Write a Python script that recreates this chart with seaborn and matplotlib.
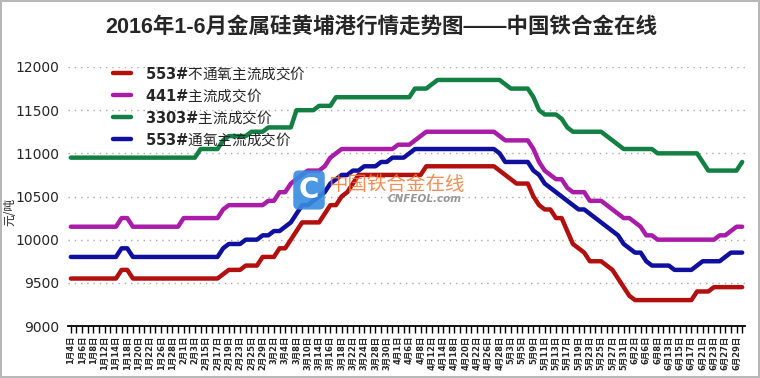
import pandas as pd
import matplotlib
matplotlib.use("Agg")
import matplotlib.pyplot as plt
import seaborn as sns

# trading days Jan-Jun 2016
jan_days = [4, 5, 6, 7, 8, 11, 12, 13, 14, 15, 18, 19, 20, 21, 22, 25, 26, 27, 28, 29]
feb_days = [1, 2, 3, 4, 15, 16, 17, 18, 19, 22, 23, 24, 25, 26, 29]
mar_days = [1, 2, 3, 4, 7, 8, 9, 10, 11, 14, 15, 16, 17, 18, 21, 22, 23, 24, 25, 28, 29, 30, 31]
apr_days = [1, 5, 6, 7, 8, 11, 12, 13, 14, 15, 18, 19, 20, 21, 22, 25, 26, 27, 28, 29]
may_days = [3, 4, 5, 6, 9, 10, 11, 12, 13, 16, 17, 18, 19, 20, 23, 24, 25, 26, 27, 30, 31]
jun_days = [1, 2, 3, 6, 7, 8, 12, 13, 14, 15, 16, 17, 20, 21, 22, 23, 24, 27, 28, 29, 30]
month_days = [(1, jan_days), (2, feb_days), (3, mar_days), (4, apr_days), (5, may_days), (6, jun_days)]
dates = [f"{m}月{d}日" for m, days in month_days for d in days]

codes = ["553#", "441#", "3303#", "553#"]
names = ["不通氧主流成交价", "主流成交价", "主流成交价", "通氧主流成交价"]
colors = ["#b20f0f", "#a81ca8", "#138043", "#10109e"]

# 553# 不通氧
red_553 = [
    9550, 9550, 9550, 9550, 9550, 9550, 9550, 9550, 9550, 9650,
    9650, 9550, 9550, 9550, 9550, 9550, 9550, 9550, 9550, 9550,
    9550, 9550, 9550, 9550, 9550, 9550, 9550, 9600, 9650, 9650,
    9650, 9700, 9700, 9700, 9800, 9800, 9800, 9900, 9900, 10000,
    10100, 10200, 10200, 10200, 10200, 10300, 10400, 10400, 10500, 10550,
    10650, 10750, 10750, 10750, 10750, 10750, 10750, 10750, 10750, 10750,
    10750, 10750, 10750, 10850, 10850, 10850, 10850, 10850, 10850, 10850,
    10850, 10850, 10850, 10850, 10850, 10850, 10800, 10750, 10700, 10650,
    10650, 10650, 10500, 10400, 10350, 10350, 10250, 10250, 10100, 9950,
    9900, 9850, 9750, 9750, 9750, 9700, 9650, 9550, 9450, 9350,
    9300, 9300, 9300, 9300, 9300, 9300, 9300, 9300, 9300, 9300,
    9300, 9400, 9400, 9400, 9450, 9450, 9450, 9450, 9450, 9450,
]
# 441#
purple_441 = [
    10150, 10150, 10150, 10150, 10150, 10150, 10150, 10150, 10150, 10250,
    10250, 10150, 10150, 10150, 10150, 10150, 10150, 10150, 10150, 10150,
    10250, 10250, 10250, 10250, 10250, 10250, 10250, 10350, 10400, 10400,
    10400, 10400, 10400, 10400, 10400, 10450, 10450, 10550, 10550, 10650,
    10700, 10750, 10800, 10800, 10800, 10850, 10950, 11000, 11050, 11050,
    11050, 11050, 11050, 11050, 11050, 11050, 11050, 11050, 11100, 11100,
    11100, 11150, 11200, 11250, 11250, 11250, 11250, 11250, 11250, 11250,
    11250, 11250, 11250, 11250, 11250, 11250, 11200, 11150, 11150, 11150,
    11150, 11150, 11050, 10900, 10800, 10750, 10700, 10700, 10600, 10550,
    10550, 10550, 10450, 10450, 10450, 10400, 10350, 10300, 10250, 10250,
    10200, 10150, 10050, 10050, 10000, 10000, 10000, 10000, 10000, 10000,
    10000, 10000, 10000, 10000, 10000, 10050, 10050, 10100, 10150, 10150,
]
# 3303#
green_3303 = [
    10950, 10950, 10950, 10950, 10950, 10950, 10950, 10950, 10950, 10950,
    10950, 10950, 10950, 10950, 10950, 10950, 10950, 10950, 10950, 10950,
    10950, 10950, 10950, 11050, 11050, 11050, 11050, 11150, 11200, 11200,
    11200, 11200, 11250, 11250, 11250, 11300, 11300, 11300, 11300, 11300,
    11500, 11500, 11500, 11500, 11550, 11550, 11550, 11650, 11650, 11650,
    11650, 11650, 11650, 11650, 11650, 11650, 11650, 11650, 11650, 11650,
    11650, 11750, 11750, 11750, 11800, 11850, 11850, 11850, 11850, 11850,
    11850, 11850, 11850, 11850, 11850, 11850, 11850, 11800, 11750, 11750,
    11750, 11750, 11650, 11500, 11450, 11450, 11450, 11400, 11300, 11250,
    11250, 11250, 11250, 11250, 11250, 11200, 11150, 11100, 11050, 11050,
    11050, 11050, 11050, 11050, 11000, 11000, 11000, 11000, 11000, 11000,
    11000, 11000, 10900, 10800, 10800, 10800, 10800, 10800, 10800, 10900,
]
# 553# 通氧
blue_553 = [
    9800, 9800, 9800, 9800, 9800, 9800, 9800, 9800, 9800, 9900,
    9900, 9800, 9800, 9800, 9800, 9800, 9800, 9800, 9800, 9800,
    9800, 9800, 9800, 9800, 9800, 9800, 9800, 9900, 9950, 9950,
    9950, 10000, 10000, 10000, 10050, 10050, 10100, 10100, 10150, 10200,
    10300, 10400, 10400, 10450, 10500, 10550, 10650, 10700, 10750, 10750,
    10800, 10800, 10850, 10850, 10850, 10900, 10900, 10950, 10950, 10950,
    11000, 11050, 11050, 11050, 11050, 11050, 11050, 11050, 11050, 11050,
    11050, 11050, 11050, 11050, 11050, 11050, 11000, 10900, 10900, 10900,
    10900, 10900, 10800, 10750, 10650, 10600, 10550, 10500, 10450, 10400,
    10350, 10350, 10300, 10250, 10200, 10150, 10100, 10050, 9950, 9900,
    9850, 9850, 9750, 9700, 9700, 9700, 9700, 9650, 9650, 9650,
    9650, 9700, 9750, 9750, 9750, 9750, 9800, 9850, 9850, 9850,
]

series_values = [red_553, purple_441, green_3303, blue_553]
series_names = [c + n for c, n in zip(codes, names)]

# long table for seaborn
frames = []
for name, vals in zip(series_names, series_values):
    frames.append(pd.DataFrame({"idx": range(len(dates)), "date": dates,
                                "price": vals, "series": name}))
df = pd.concat(frames, ignore_index=True)

sns.set_theme(style="white")
plt.rcParams["font.family"] = ["DejaVu Sans", "Noto Sans CJK SC"]
plt.rcParams["mathtext.fontset"] = "custom"
plt.rcParams["mathtext.bf"] = "DejaVu Sans:bold"

fig = plt.figure(figsize=(7.6, 3.78), dpi=100)
fig.patch.set_edgecolor("#b8b8b8")
fig.patch.set_linewidth(1.5)
ax = fig.add_axes([68 / 760, 1 - 326 / 378, 677 / 760, 259 / 378])

sns.lineplot(data=df, x="idx", y="price", hue="series", hue_order=series_names,
             palette=dict(zip(series_names, colors)), linewidth=3.2,
             errorbar=None, ax=ax, zorder=3)
for line in ax.lines:
    line.set_solid_joinstyle("round")
    line.set_solid_capstyle("round")

ax.set_xlim(-0.5, len(dates) - 0.5)
ax.set_ylim(9000, 12000)
ax.set_yticks(range(9000, 12001, 500))
ax.set_xticks(range(len(dates)))
ax.set_xticklabels([d if i % 2 == 0 else "" for i, d in enumerate(dates)],
                   rotation=90, fontsize=6, fontweight="bold")
ax.tick_params(axis="x", length=5, width=1, color="black", direction="out",
               bottom=True, pad=2)
ax.tick_params(axis="y", length=0, labelsize=10, pad=6)
ax.set_xlabel("")
ax.set_ylabel("")

ax.yaxis.grid(True, linestyle=(0, (1, 3.5)), color="#aaaaaa", linewidth=1)
ax.set_axisbelow(True)
for side in ["left", "right", "top"]:
    ax.spines[side].set_visible(False)
ax.spines["bottom"].set_color("black")
ax.spines["bottom"].set_linewidth(1.3)

# legend: bold code + regular chinese name
handles, labels = ax.get_legend_handles_labels()
leg_labels = [r"$\mathbf{" + c.replace("#", r"\#") + "}$" + n for c, n in zip(codes, names)]
ax.legend(handles, leg_labels, loc="upper left", bbox_to_anchor=(0.055, 1.04),
          frameon=False, handlelength=1.3, handletextpad=0.9, labelspacing=0.3,
          borderpad=0, prop={"family": "Noto Sans CJK SC", "size": 10.5})

# title and y label
fig.text(381 / 760, 1 - 27 / 378, "2016年1-6月金属硅黄埔港行情走势图——中国铁合金在线",
         ha="center", va="center", fontsize=15.5, fontweight="bold",
         family=["Liberation Sans", "Noto Sans CJK SC"])
fig.text(10 / 760, 1 - 212 / 378, "元/吨", rotation=90, ha="center", va="center",
         fontsize=8.5, family=["Noto Sans CJK SC", "DejaVu Sans"])

# watermark
fig.text(309 / 760, 1 - 190 / 378, "C", ha="center", va="center", fontsize=20,
         fontweight="bold", color="white", zorder=10,
         bbox=dict(boxstyle="round,pad=0.2", fc=(0.22, 0.55, 0.88, 0.9), ec="none"))
fig.text(328 / 760, 1 - 184 / 378, "中国铁合金在线", ha="left", va="center",
         fontsize=14, color="#f07a3a", alpha=0.85, zorder=10,
         family=["Noto Sans CJK SC"])
fig.text(388 / 760, 1 - 199 / 378, "CNFEOL.com", ha="left", va="center",
         fontsize=7.5, color="#8c8c8c", style="italic", fontweight="bold",
         alpha=0.9, zorder=10)

fig.savefig("out.png", dpi=100)
